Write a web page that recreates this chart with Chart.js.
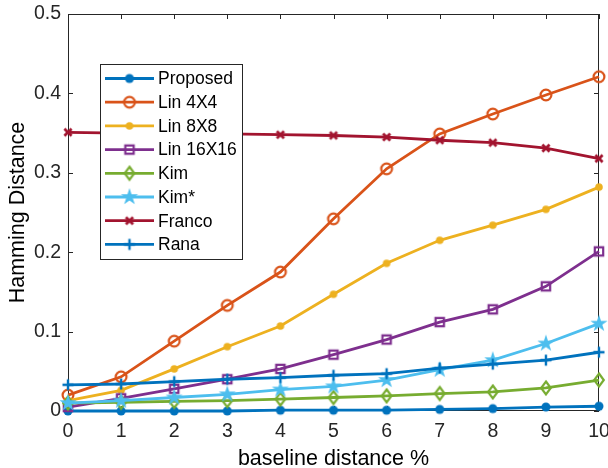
<!DOCTYPE html>
<html>
<head>
<meta charset="utf-8">
<script src="https://cdn.jsdelivr.net/npm/chart.js@4/dist/chart.umd.min.js"></script>
<style>
  html, body { margin: 0; padding: 0; background: #fff; }
</style>
</head>
<body>
<canvas id="hdChart" width="608" height="468"></canvas>
<script>
// baseline distance (%) on the x axis
const baseline = [0, 1, 2, 3, 4, 5, 6, 7, 8, 9, 10];

// Hamming distance per method
const proposed = [0.000, 0.000, 0.000, 0.000, 0.001, 0.001, 0.001, 0.002, 0.003, 0.005, 0.006];
const lin4x4   = [0.020, 0.043, 0.088, 0.133, 0.175, 0.242, 0.305, 0.349, 0.374, 0.398, 0.421];
const lin8x8   = [0.013, 0.026, 0.053, 0.081, 0.107, 0.147, 0.186, 0.215, 0.234, 0.254, 0.282];
const lin16x16 = [0.005, 0.016, 0.028, 0.040, 0.053, 0.071, 0.090, 0.112, 0.128, 0.157, 0.201];
const kim      = [0.010, 0.011, 0.012, 0.013, 0.015, 0.017, 0.019, 0.022, 0.024, 0.029, 0.039];
const kimStar  = [0.010, 0.013, 0.017, 0.021, 0.027, 0.031, 0.039, 0.052, 0.064, 0.085, 0.110];
const franco   = [0.351, 0.350, 0.350, 0.349, 0.348, 0.347, 0.345, 0.341, 0.338, 0.331, 0.318];
const rana     = [0.033, 0.034, 0.037, 0.040, 0.042, 0.045, 0.047, 0.054, 0.059, 0.064, 0.074];

const yTicks = [0, 0.1, 0.2, 0.3, 0.4, 0.5];

const FONT = '"Liberation Sans", Arial, Helvetica, sans-serif';
const AXIS = '#262626';
const LINE_W = 2.8;

// marker images, drawn once and reused for the points and the legend
function makeMarker(shape, color) {
    const s = 22;
    const c = document.createElement('canvas');
    c.width = s; c.height = s;
    const g = c.getContext('2d');
    g.translate(s / 2, s / 2);
    g.strokeStyle = color;
    g.fillStyle = color;
    g.lineWidth = 2.2;
    g.lineJoin = 'miter';
    g.beginPath();
    if (shape === 'dot') {
        g.arc(0, 0, 4.5, 0, Math.PI * 2);
        g.fill();
    } else if (shape === 'smalldot') {
        g.arc(0, 0, 3.8, 0, Math.PI * 2);
        g.fill();
    } else if (shape === 'circle') {
        g.arc(0, 0, 5.4, 0, Math.PI * 2);
        g.stroke();
    } else if (shape === 'square') {
        g.rect(-4.2, -4.2, 8.4, 8.4);
        g.stroke();
    } else if (shape === 'diamond') {
        g.moveTo(0, -6.5); g.lineTo(4.8, 0); g.lineTo(0, 6.5); g.lineTo(-4.8, 0);
        g.closePath();
        g.stroke();
    } else if (shape === 'star') {
        const R = 9, r = R * 0.382;
        for (let i = 0; i < 10; i++) {
            const a = -Math.PI / 2 + i * Math.PI / 5;
            const rr = i % 2 === 0 ? R : r;
            g.lineTo(rr * Math.cos(a), rr * Math.sin(a));
        }
        g.closePath();
        g.fill();
    } else if (shape === 'x') {
        g.lineWidth = 2.8;
        g.moveTo(-3.6, -3.6); g.lineTo(3.6, 3.6);
        g.moveTo(3.6, -3.6); g.lineTo(-3.6, 3.6);
        g.stroke();
    } else if (shape === 'plus') {
        g.lineWidth = 2.4;
        g.moveTo(-5.5, 0); g.lineTo(5.5, 0);
        g.moveTo(0, -5.5); g.lineTo(0, 5.5);
        g.stroke();
    }
    return c;
}

const series = [
    { label: 'Proposed',  data: proposed, color: '#0072BD', marker: 'dot' },
    { label: 'Lin 4X4',   data: lin4x4,   color: '#D95319', marker: 'circle' },
    { label: 'Lin 8X8',   data: lin8x8,   color: '#EDB120', marker: 'smalldot' },
    { label: 'Lin 16X16', data: lin16x16, color: '#7E2F8E', marker: 'square' },
    { label: 'Kim',       data: kim,      color: '#77AC30', marker: 'diamond' },
    { label: 'Kim*',      data: kimStar,  color: '#4DBEEE', marker: 'star' },
    { label: 'Franco',    data: franco,   color: '#A2142F', marker: 'x' },
    { label: 'Rana',      data: rana,     color: '#0072BD', marker: 'plus' }
];

const datasets = series.map((s, i) => {
    const img = makeMarker(s.marker, s.color);
    return {
        label: s.label,
        data: s.data.map((v, k) => ({ x: baseline[k], y: v })),
        borderColor: s.color,
        backgroundColor: s.color,
        borderWidth: LINE_W,
        pointStyle: img,
        pointRadius: 5,
        pointHoverRadius: 5,
        tension: 0,
        clip: false,
        order: series.length - i, // later series on top
        markerImg: img
    };
});

// box around the plot with inward tick marks
const boxPlugin = {
    id: 'axesBox',
    beforeDatasetsDraw(chart) {
        const { ctx, chartArea: a, scales } = chart;
        ctx.save();
        ctx.strokeStyle = AXIS;
        ctx.lineWidth = 1;
        ctx.strokeRect(a.left + 0.5, a.top + 0.5, a.right - a.left - 1, a.bottom - a.top - 1);
        ctx.beginPath();
        yTicks.forEach(v => {
            const y = Math.round(scales.y.getPixelForValue(v)) + 0.5;
            ctx.moveTo(a.left, y); ctx.lineTo(a.left + 5, y);
            ctx.moveTo(a.right, y); ctx.lineTo(a.right - 5, y);
        });
        baseline.forEach(v => {
            const x = Math.round(scales.x.getPixelForValue(v)) + 0.5;
            ctx.moveTo(x, a.bottom); ctx.lineTo(x, a.bottom - 5);
            ctx.moveTo(x, a.top); ctx.lineTo(x, a.top + 5);
        });
        ctx.stroke();
        ctx.restore();
    }
};

// legend box inside the plot: line sample with marker, then the name
const legendPlugin = {
    id: 'boxLegend',
    afterDatasetsDraw(chart) {
        const ctx = chart.ctx;
        const left = 100, top = 64, w = 142, h = 195;
        const rowH = 23.7, firstY = 78.5;
        ctx.save();
        ctx.fillStyle = '#fff';
        ctx.fillRect(left, top, w, h);
        ctx.strokeStyle = AXIS;
        ctx.lineWidth = 1;
        ctx.strokeRect(left + 0.5, top + 0.5, w, h);
        ctx.font = '17.5px ' + FONT;
        ctx.textBaseline = 'middle';
        ctx.textAlign = 'left';
        chart.data.datasets.forEach((ds, i) => {
            const y = firstY + i * rowH;
            ctx.strokeStyle = ds.borderColor;
            ctx.lineWidth = LINE_W;
            ctx.beginPath();
            ctx.moveTo(105, y); ctx.lineTo(154, y);
            ctx.stroke();
            const img = ds.markerImg;
            ctx.drawImage(img, 129.5 - img.width / 2, y - img.height / 2);
            ctx.fillStyle = '#000';
            ctx.fillText(ds.label, 158, y + 1);
        });
        ctx.restore();
    }
};

new Chart(document.getElementById('hdChart'), {
    type: 'line',
    data: { datasets: datasets },
    plugins: [boxPlugin, legendPlugin],
    options: {
        responsive: false,
        animation: false,
        devicePixelRatio: 1,
        events: [],
        layout: { padding: { left: 0, right: 9, top: 14, bottom: 0 } },
        plugins: {
            legend: { display: false },
            tooltip: { enabled: false }
        },
        scales: {
            x: {
                type: 'linear',
                min: 0,
                max: 10,
                afterBuildTicks: s => { s.ticks = baseline.map(v => ({ value: v })); },
                ticks: {
                    color: AXIS,
                    padding: 9,
                    maxRotation: 0,
                    autoSkip: false,
                    font: { family: FONT, size: 19.5 },
                    callback: v => String(v)
                },
                grid: { display: false, drawTicks: false },
                border: { display: false },
                title: {
                    display: true,
                    text: 'baseline distance %',
                    color: '#000',
                    font: { family: FONT, size: 21.5, lineHeight: 1 },
                    padding: { top: 0, bottom: -2 }
                },
                afterFit: s => { s.height = 57; s.paddingLeft = 0; s.paddingRight = 0; }
            },
            y: {
                type: 'linear',
                min: 0,
                max: 0.5,
                afterBuildTicks: s => { s.ticks = yTicks.map(v => ({ value: v })); },
                ticks: {
                    color: AXIS,
                    padding: 7,
                    font: { family: FONT, size: 19.5 },
                    callback: v => (v === 0 ? '0' : v.toFixed(1))
                },
                grid: { display: false, drawTicks: false },
                border: { display: false },
                title: {
                    display: true,
                    text: 'Hamming Distance',
                    color: '#000',
                    font: { family: FONT, size: 21.5, lineHeight: 1 },
                    padding: { top: 7, bottom: 0 }
                },
                afterFit: s => { s.width = 68; s.paddingTop = 0; s.paddingBottom = 0; }
            }
        }
    }
});
</script>
</body>
</html>
